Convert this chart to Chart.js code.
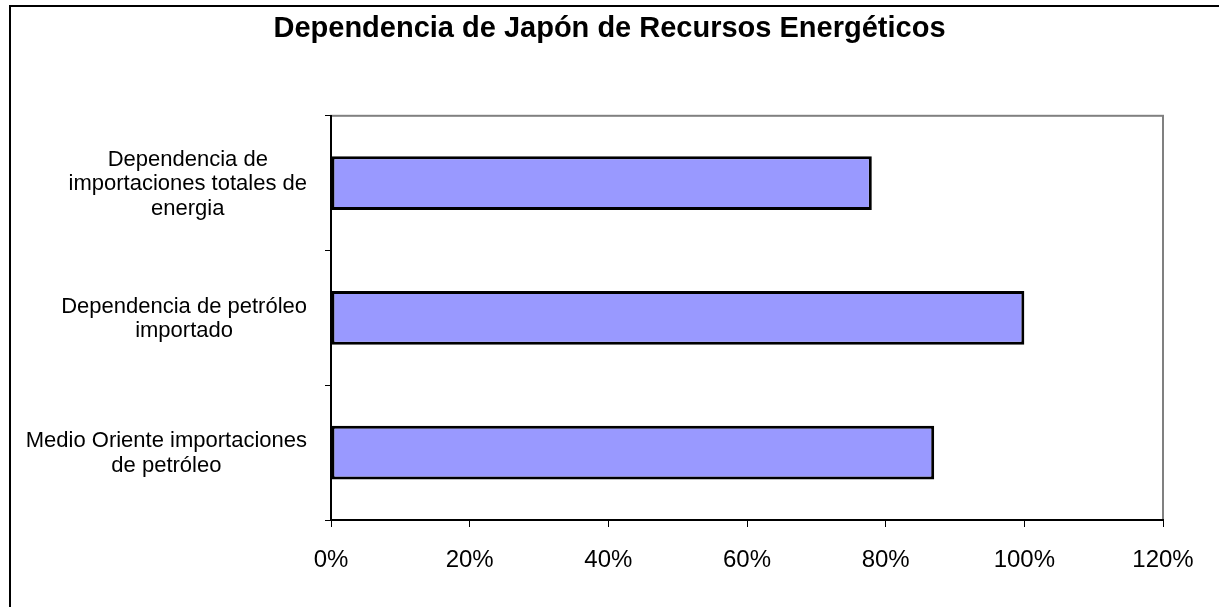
<!DOCTYPE html>
<html>
<head>
<meta charset="utf-8">
<script src="https://cdn.jsdelivr.net/npm/chart.js@4/dist/chart.umd.min.js"></script>
<style>
  html, body { margin: 0; padding: 0; background: #fff; }
  #wrap { position: relative; width: 1219px; height: 607px; overflow: hidden; }
  /* marco exterior del gráfico (solo lados izquierdo y superior visibles) */
  #frame { position: absolute; left: 9px; top: 5px; width: 1300px; height: 700px;
           border-left: 2px solid #000; border-top: 2px solid #000; }
  #myChart { position: absolute; left: 0; top: 0; }
</style>
</head>
<body>
<div id="wrap">
  <div id="frame"></div>
  <canvas id="myChart" width="1219" height="607"></canvas>
</div>
<script>
// datos del gráfico
var chartTitle = 'Dependencia de Japón de Recursos Energéticos';
var categories = [
  ['Dependencia de', 'importaciones totales de', 'energia'],
  ['Dependencia de petróleo', 'importado'],
  ['Medio Oriente importaciones', 'de petróleo']
];
var values = [78, 100, 87];
var xMin = 0, xMax = 120, xStep = 20;

Chart.defaults.font.family = "'Liberation Sans', Arial, sans-serif";
Chart.defaults.color = '#000';

// borde gris del área de trazado (arriba y derecha)
var plotBorder = {
  id: 'plotBorder',
  beforeDraw: function(chart) {
    var a = chart.chartArea, ctx = chart.ctx;
    ctx.save();
    ctx.strokeStyle = '#808080';
    ctx.lineWidth = 2;
    ctx.strokeRect(a.left, a.top, a.right - a.left, a.bottom - a.top);
    ctx.restore();
  }
};

// etiquetas de categoría centradas, cada una sobre su línea más larga
var catLabels = {
  id: 'catLabels',
  afterDraw: function(chart) {
    var ys = chart.scales.y, ctx = chart.ctx;
    var rightEdge = ys.right - 24;
    var lineH = 24.5;
    ctx.save();
    ctx.font = "22px 'Liberation Sans', Arial, sans-serif";
    ctx.fillStyle = '#000';
    ctx.textAlign = 'center';
    ctx.textBaseline = 'middle';
    categories.forEach(function(lines, i) {
      var widest = 0;
      lines.forEach(function(l) { widest = Math.max(widest, ctx.measureText(l).width); });
      var cx = rightEdge - widest / 2;
      var cy = ys.getPixelForTick(i) + 1;
      var y0 = cy - (lines.length - 1) * lineH / 2;
      lines.forEach(function(l, k) { ctx.fillText(l, cx, y0 + k * lineH); });
    });
    ctx.restore();
  }
};

const myCt = document.getElementById('myChart');
new Chart(myCt, {
  type: 'bar',
  data: {
    labels: categories.map(function(c) { return c.join(' '); }),
    datasets: [{
      data: values,
      backgroundColor: '#9999FF',
      borderColor: '#000',
      borderWidth: 3,
      borderSkipped: false,
      barPercentage: 0.4,
      categoryPercentage: 1
    }]
  },
  options: {
    indexAxis: 'y',
    responsive: false,
    animation: false,
    layout: { padding: 0 },
    plugins: {
      legend: { display: false },
      tooltip: { enabled: false },
      title: {
        display: true,
        text: chartTitle,
        color: '#000',
        font: { size: 29, weight: 'bold' },
        padding: { top: 12, bottom: 69 }
      }
    },
    scales: {
      x: {
        min: xMin, max: xMax,
        ticks: {
          stepSize: xStep,
          padding: 19,
          font: { size: 24 },
          color: '#000',
          callback: function(v) { return v + '%'; }
        },
        grid: { drawOnChartArea: false, drawTicks: true, tickLength: 7, color: '#000' },
        border: { color: '#000', width: 2 },
        afterFit: function(s) { s.height = 87; }
      },
      y: {
        ticks: { display: false },
        grid: { drawOnChartArea: false, drawTicks: true, tickLength: 6, color: '#000', offset: true },
        border: { color: '#000', width: 2 },
        afterFit: function(s) { s.width = 331; }
      },
      // eje vacío a la derecha: solo reserva el margen derecho
      yRight: {
        type: 'category',
        position: 'right',
        ticks: { display: false },
        grid: { display: false },
        border: { display: false },
        afterFit: function(s) { s.width = 56; }
      }
    }
  },
  plugins: [plotBorder, catLabels]
});
</script>
</body>
</html>
